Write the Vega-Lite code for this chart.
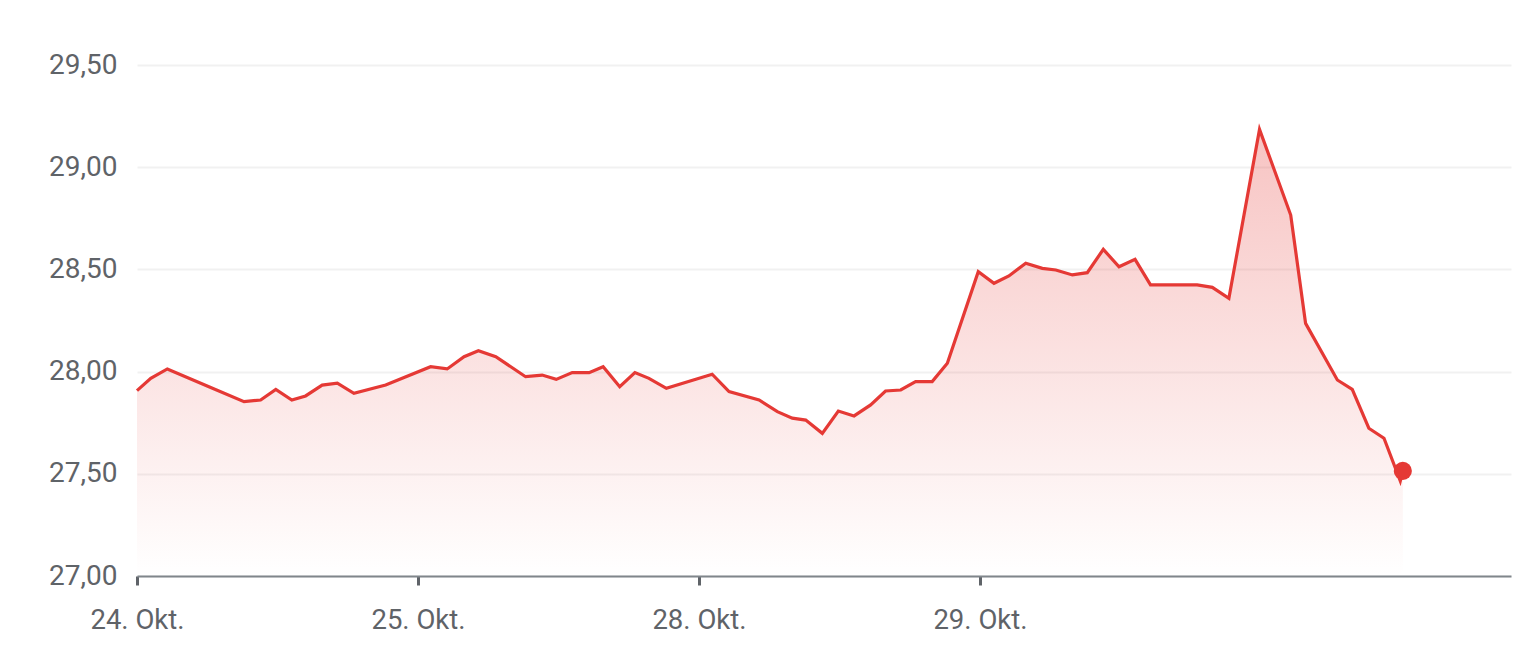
{
  "$schema": "https://vega.github.io/schema/vega-lite/v6.json",
  "autosize": "none",
  "width": 1374,
  "height": 511,
  "padding": {"left": 137, "top": 65, "right": 25, "bottom": 94},
  "background": "white",
  "config": {
    "view": {"stroke": null},
    "font": "Roboto"
  },
  "data": {
    "values": [
      {"t": 0.0, "v": 27.907},
      {"t": 0.049, "v": 27.967},
      {"t": 0.108, "v": 28.013},
      {"t": 0.256, "v": 27.926},
      {"t": 0.381, "v": 27.853},
      {"t": 0.44, "v": 27.861},
      {"t": 0.494, "v": 27.913},
      {"t": 0.551, "v": 27.861},
      {"t": 0.6, "v": 27.881},
      {"t": 0.659, "v": 27.934},
      {"t": 0.713, "v": 27.943},
      {"t": 0.772, "v": 27.894},
      {"t": 0.885, "v": 27.934},
      {"t": 1.045, "v": 28.024},
      {"t": 1.104, "v": 28.013},
      {"t": 1.164, "v": 28.073},
      {"t": 1.215, "v": 28.102},
      {"t": 1.277, "v": 28.073},
      {"t": 1.383, "v": 27.975},
      {"t": 1.442, "v": 27.983},
      {"t": 1.492, "v": 27.962},
      {"t": 1.549, "v": 27.995},
      {"t": 1.609, "v": 27.995},
      {"t": 1.659, "v": 28.024},
      {"t": 1.718, "v": 27.926},
      {"t": 1.772, "v": 27.995},
      {"t": 1.822, "v": 27.967},
      {"t": 1.884, "v": 27.918},
      {"t": 2.047, "v": 27.987},
      {"t": 2.107, "v": 27.902},
      {"t": 2.214, "v": 27.861},
      {"t": 2.279, "v": 27.804},
      {"t": 2.332, "v": 27.772},
      {"t": 2.38, "v": 27.763},
      {"t": 2.439, "v": 27.698},
      {"t": 2.496, "v": 27.807},
      {"t": 2.552, "v": 27.783},
      {"t": 2.611, "v": 27.837},
      {"t": 2.664, "v": 27.905},
      {"t": 2.718, "v": 27.91},
      {"t": 2.771, "v": 27.951},
      {"t": 2.83, "v": 27.951},
      {"t": 2.884, "v": 28.041},
      {"t": 2.994, "v": 28.489},
      {"t": 3.05, "v": 28.432},
      {"t": 3.103, "v": 28.468},
      {"t": 3.163, "v": 28.53},
      {"t": 3.222, "v": 28.505},
      {"t": 3.27, "v": 28.497},
      {"t": 3.329, "v": 28.473},
      {"t": 3.382, "v": 28.484},
      {"t": 3.439, "v": 28.598},
      {"t": 3.495, "v": 28.513},
      {"t": 3.552, "v": 28.549},
      {"t": 3.607, "v": 28.424},
      {"t": 3.773, "v": 28.424},
      {"t": 3.827, "v": 28.412},
      {"t": 3.886, "v": 28.359},
      {"t": 3.995, "v": 29.185},
      {"t": 4.106, "v": 28.766},
      {"t": 4.159, "v": 28.236},
      {"t": 4.272, "v": 27.959},
      {"t": 4.325, "v": 27.913},
      {"t": 4.384, "v": 27.723},
      {"t": 4.438, "v": 27.674},
      {"t": 4.496, "v": 27.465},
      {"t": 4.505, "v": 27.514}
    ]
  },
  "encoding": {
    "x": {
      "field": "t",
      "type": "quantitative",
      "scale": {"domain": [0, 4.89], "nice": false, "zero": false},
      "axis": {
        "title": null,
        "values": [0, 1, 2, 3],
        "labelExpr": "datum.value == 0 ? '24. Okt.' : datum.value == 1 ? '25. Okt.' : datum.value == 2 ? '28. Okt.' : '29. Okt.'",
        "grid": false,
        "domainColor": "#80868b",
        "domainWidth": 2,
        "tickColor": "#5f6368",
        "tickWidth": 3,
        "tickSize": 9,
        "labelFontSize": 27.5,
        "labelColor": "#5f6368",
        "labelPadding": 21,
        "labelFlush": false
      }
    },
    "y": {
      "field": "v",
      "type": "quantitative",
      "scale": {"domain": [27, 29.5], "nice": false, "zero": false},
      "axis": {
        "title": null,
        "values": [27, 27.5, 28, 28.5, 29, 29.5],
        "labelExpr": "replace(format(datum.value, '.2f'), '.', ',')",
        "domain": false,
        "ticks": false,
        "gridColor": "#f1f1f1",
        "gridWidth": 2,
        "labelFontSize": 28,
        "labelColor": "#5f6368",
        "labelPadding": 20
      }
    }
  },
  "layer": [
    {
      "mark": {
        "type": "area",
        "color": {
          "gradient": "linear",
          "x1": 0, "y1": 0, "x2": 0, "y2": 1,
          "stops": [
            {"offset": 0, "color": "rgba(229,57,53,0.30)"},
            {"offset": 1, "color": "rgba(229,57,53,0.0)"}
          ]
        }
      },
      "encoding": {"y2": {"datum": 27}}
    },
    {
      "mark": {"type": "line", "color": "#e53935", "strokeWidth": 3.2}
    },
    {
      "transform": [{"filter": "datum.t >= 4.5"}],
      "mark": {"type": "point", "filled": true, "color": "#e53935", "size": 330, "opacity": 1}
    }
  ]
}
